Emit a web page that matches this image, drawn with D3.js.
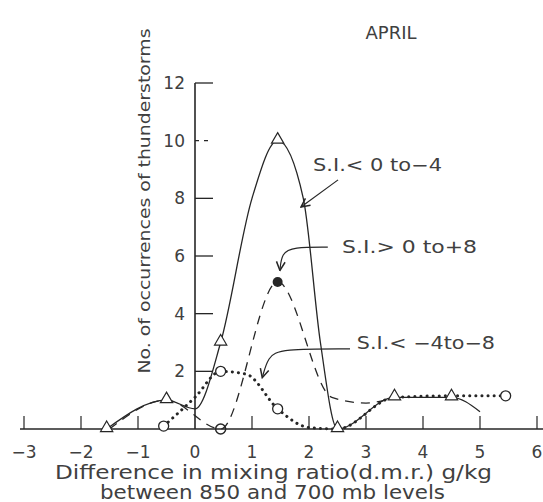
<!DOCTYPE html>
<html lang="en">
<head>
<meta charset="UTF-8">
<title>April thunderstorms vs d.m.r.</title>
<script src="https://d3js.org/d3.v7.min.js"></script>
<style>
  body { margin: 0; background: #fff; }
  text { font-family: "DejaVu Sans", sans-serif; fill: #404040; }
</style>
</head>
<body>
<script>
    // ---- data ----
    var xTicks = [-3, -2, -1, 0, 1, 2, 3, 4, 5, 6];
    var yTicks = [2, 4, 6, 8, 10, 12];

    // S.I. < 0 to -4 (solid, triangles); unmarked entries follow the drawn curve
    var solidX = [-1.55, -0.5, 0, 0.45, 1.0, 1.45, 1.9, 2.2, 2.5, 3.5, 4.5, 5.0];
    var solidY = [0, 1, 0.7, 3, 8, 10, 8, 3, 0, 1.1, 1.1, 0.6];
    var solidMark = [1, 1, 0, 1, 0, 1, 0, 0, 1, 1, 1, 0];

    // S.I. > 0 to +8 (dashed)
    var dashX = [-1.5, -0.5, 0.45, 1.45, 2.4, 3.0, 3.5];
    var dashY = [0, 1, 0, 5.1, 1.1, 0.9, 1.1];

    // S.I. < -4 to -8 (dotted, open circles)
    var dotX = [-0.55, 0, 0.45, 0.9, 1.45, 2.0, 2.5, 3.5, 4.5, 5.45];
    var dotY = [0.1, 1.1, 2, 1.9, 0.7, 0.05, 0, 1.1, 1.15, 1.15];
    var dotMark = [1, 0, 1, 0, 1, 0, 0, 0, 0, 1];

    width = 543;
    height = 502;
    var svg = d3.select("body").append("svg")
        .attr("width", width)
        .attr("height", height);

    var x = d3.scaleLinear().domain([0, 6]).range([195, 537]);
    var y = d3.scaleLinear().domain([0, 12]).range([429, 83]);
    var ink = "#262626";

    svg.append("defs").append("marker")
        .attr("id", "arr")
        .attr("viewBox", "0 0 10 10")
        .attr("refX", 9).attr("refY", 5)
        .attr("markerWidth", 9).attr("markerHeight", 9)
        .attr("orient", "auto")
        .append("path")
        .attr("d", "M1,1 L9,5 L1,9")
        .attr("fill", "none").attr("stroke", ink).attr("stroke-width", 1.4);

    // axes
    svg.append("line")
        .attr("x1", 20).attr("x2", 543)
        .attr("y1", y(0)).attr("y2", y(0))
        .attr("stroke", ink).attr("stroke-width", 1.6);
    svg.append("line")
        .attr("x1", x(0)).attr("x2", x(0))
        .attr("y1", y(0)).attr("y2", y(12))
        .attr("stroke", ink).attr("stroke-width", 1.6);

    xTicks.forEach(function(t) {
        if (t !== 0) {
            svg.append("line")
                .attr("x1", x(t)).attr("x2", x(t))
                .attr("y1", y(0)).attr("y2", y(0) - 13)
                .attr("stroke", ink).attr("stroke-width", 1.2);
        }
        svg.append("text")
            .attr("x", x(t)).attr("y", 458)
            .attr("text-anchor", "middle")
            .attr("font-size", 17)
            .text(t < 0 ? "\u2212" + Math.abs(t) : t);
    });

    yTicks.forEach(function(t) {
        svg.append("line")
            .attr("x1", x(0)).attr("x2", x(0) + 18)
            .attr("y1", y(t)).attr("y2", y(t))
            .attr("stroke", ink).attr("stroke-width", 1.3)
            .attr("stroke-dasharray", t === 10 ? "4,5" : null);
        svg.append("text")
            .attr("x", x(0) - 10).attr("y", y(t) + 6)
            .attr("text-anchor", "end")
            .attr("font-size", 17)
            .text(t);
    });

    // titles
    svg.append("text")
        .attr("x", 391).attr("y", 39)
        .attr("text-anchor", "middle")
        .attr("font-size", 18)
        .text("APRIL");
    svg.append("text")
        .attr("transform", "translate(150,201) rotate(-90)")
        .attr("text-anchor", "middle")
        .attr("font-size", 16)
        .attr("textLength", 345).attr("lengthAdjust", "spacingAndGlyphs")
        .text("No. of occurrences of thunderstorms");
    svg.append("text")
        .attr("x", 55).attr("y", 479)
        .attr("font-size", 19)
        .attr("textLength", 437).attr("lengthAdjust", "spacingAndGlyphs")
        .text("Difference in mixing ratio(d.m.r.)  g/kg");
    svg.append("text")
        .attr("x", 100).attr("y", 499)
        .attr("font-size", 19)
        .attr("textLength", 345).attr("lengthAdjust", "spacingAndGlyphs")
        .text("between 850 and 700 mb levels");

    // curves
    function pts(xs, ys) {
        return xs.map(function(v, i) { return [x(v), y(ys[i])]; });
    }
    var curve = d3.line().curve(d3.curveMonotoneX);

    svg.append("path")
        .attr("d", curve(pts(dashX, dashY)))
        .attr("fill", "none").attr("stroke", ink)
        .attr("stroke-width", 1.3).attr("stroke-dasharray", "9,7");
    svg.append("path")
        .attr("d", curve(pts(dotX, dotY)))
        .attr("fill", "none").attr("stroke", ink)
        .attr("stroke-width", 3).attr("stroke-linecap", "round")
        .attr("stroke-dasharray", "0.1,6");
    svg.append("path")
        .attr("d", curve(pts(solidX, solidY)))
        .attr("fill", "none").attr("stroke", ink)
        .attr("stroke-width", 1.3);

    // markers
    dotX.forEach(function(v, i) {
        if (!dotMark[i]) return;
        svg.append("circle")
            .attr("cx", x(v)).attr("cy", y(dotY[i])).attr("r", 5)
            .attr("fill", "#fff").attr("stroke", ink).attr("stroke-width", 1.3);
    });
    // dashed series: open circle on the axis and filled dot at the peak
    svg.append("circle")
        .attr("cx", x(dashX[2])).attr("cy", y(dashY[2])).attr("r", 5)
        .attr("fill", "none").attr("stroke", ink).attr("stroke-width", 1.5);
    svg.append("circle")
        .attr("cx", x(dashX[3])).attr("cy", y(dashY[3])).attr("r", 5)
        .attr("fill", ink);
    var tri = d3.symbol(d3.symbolTriangle).size(65);
    solidX.forEach(function(v, i) {
        if (!solidMark[i]) return;
        svg.append("path")
            .attr("d", tri())
            .attr("transform", "translate(" + x(v) + "," + (y(solidY[i]) - 1) + ")")
            .attr("fill", "#fff").attr("stroke", ink).attr("stroke-width", 1.2);
    });

    // annotations (positions in data units)
    var labels = [
        {text: "S.I.< 0 to\u22124", tx: 2.07, ty: 9.16, len: 129,
         lead: [[2.51, 8.64], [1.86, 7.7]]},
        {text: "S.I.> 0 to+8", tx: 2.58, ty: 6.31, len: 135,
         lead: [[2.33, 6.31], [1.72, 6.31], [1.52, 6.1], [1.49, 5.5]]},
        {text: "S.I.< \u22124to\u22128", tx: 2.84, ty: 3.0, len: 138,
         lead: [[2.72, 2.78], [1.5, 2.78], [1.28, 2.5], [1.18, 1.78]]}
    ];
    var lead = d3.line().curve(d3.curveBasis);
    labels.forEach(function(d) {
        svg.append("text")
            .attr("x", x(d.tx)).attr("y", y(d.ty) + 6)
            .attr("font-size", 17)
            .attr("textLength", d.len).attr("lengthAdjust", "spacingAndGlyphs")
            .text(d.text);
        svg.append("path")
            .attr("d", lead(d.lead.map(function(p) { return [x(p[0]), y(p[1])]; })))
            .attr("fill", "none").attr("stroke", ink).attr("stroke-width", 1.2)
            .attr("marker-end", "url(#arr)");
    });
</script>
</body>
</html>
